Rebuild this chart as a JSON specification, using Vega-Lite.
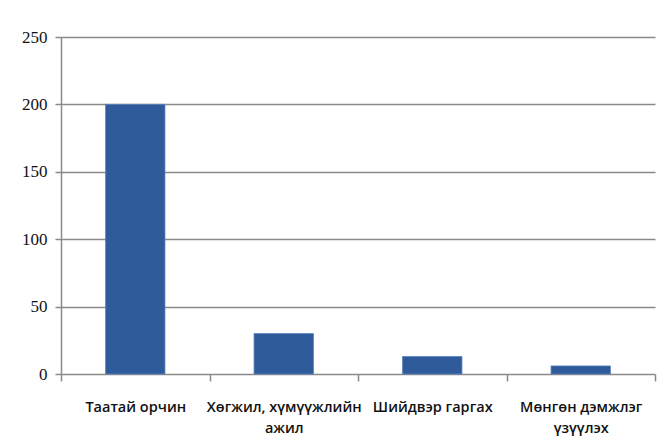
{
  "$schema": "https://vega.github.io/schema/vega-lite/v6.json",
  "autosize": "none",
  "width": 594,
  "height": 337,
  "padding": {"left": 61, "top": 37, "right": 8, "bottom": 63},
  "background": "white",
  "config": {"view": {"stroke": null}},
  "data": {"values": [
    {"category": "Таатай орчин", "value": 200},
    {"category": "Хөгжил, хүмүүжлийн ажил", "value": 30},
    {"category": "Шийдвэр гаргах", "value": 13},
    {"category": "Мөнгөн дэмжлэг үзүүлэх", "value": 6}
  ]},
  "mark": {"type": "bar", "color": "#2F5B9B", "stroke": "#5A82BE", "strokeWidth": 0.8, "width": {"band": 0.4}},
  "encoding": {
    "x": {
      "field": "category", "type": "nominal", "sort": null,
      "scale": {"paddingInner": 0, "paddingOuter": 0},
      "axis": {
        "title": null, "labelAngle": 0, "domain": false,
        "ticks": true, "tickBand": "extent", "tickSize": 7, "tickColor": "#8a8a8a", "tickWidth": 1.5,
        "labelFont": "Open Sans", "labelFontSize": 14.5, "labelFontWeight": 600,
        "labelColor": "#111", "labelPadding": 19, "labelLineHeight": 21, "labelLimit": 200,
        "labelExpr": "datum.label == 'Хөгжил, хүмүүжлийн ажил' ? ['Хөгжил, хүмүүжлийн', 'ажил'] : datum.label == 'Мөнгөн дэмжлэг үзүүлэх' ? ['Мөнгөн дэмжлэг', 'үзүүлэх'] : datum.label"
      }
    },
    "y": {
      "field": "value", "type": "quantitative",
      "scale": {"domain": [0, 250]},
      "axis": {
        "title": null, "values": [0, 50, 100, 150, 200, 250],
        "grid": true, "gridColor": "#8a8a8a", "gridWidth": 1.5,
        "domain": true, "domainColor": "#8a8a8a", "domainWidth": 1.5,
        "tickColor": "#8a8a8a", "tickSize": 6, "tickWidth": 1.5,
        "labelFont": "Liberation Sans Narrow", "labelFontSize": 17, "labelColor": "#111",
        "labelPadding": 8
      }
    }
  }
}
